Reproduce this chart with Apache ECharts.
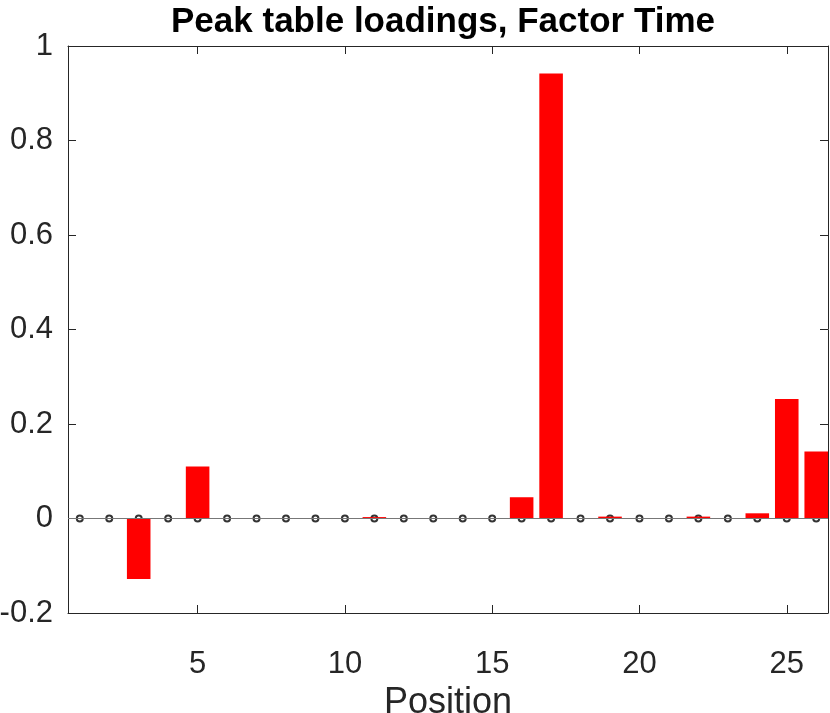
<!DOCTYPE html>
<html>
<head>
<meta charset="utf-8">
<script src="https://cdn.jsdelivr.net/npm/echarts@6/dist/echarts.min.js"></script>
<style>html,body{margin:0;padding:0;background:#fff}#c{width:830px;height:713px}</style>
</head>
<body>
<div id="c"></div>
<script>
var positions = [1,2,3,4,5,6,7,8,9,10,11,12,13,14,15,16,17,18,19,20,21,22,23,24,25,26];
var loadings = [0, 0.001, -0.128, 0, 0.110, 0.001, 0.001, 0, 0.001, 0, 0.003, 0, 0.001, 0.001, 0.001, 0.045, 0.942, 0, 0.004, 0.001, 0.001, 0.004, 0, 0.011, 0.253, 0.142];
var markerValues = [0,0,0,0,0,0,0,0,0,0,0,0,0,0,0,0,0,0,0,0,0,0,0,0,0,0];
var xTicks = [5, 10, 15, 20, 25];
var titleText = 'Peak table loadings, Factor Time';
var xLabel = 'Position';

var font = "'Liberation Sans', Helvetica, Arial, sans-serif";
var axisColor = '#262626';
var chart = echarts.init(document.getElementById('c'), null, {renderer: 'canvas'});
var barData = positions.map(function (p, i) { return [p, loadings[i]]; });
var markData = positions.map(function (p, i) { return [p, markerValues[i]]; });

chart.setOption({
  animation: false,
  backgroundColor: '#ffffff',
  title: {
    text: titleText,
    left: 438, top: 0, textAlign: 'center',
    textStyle: {fontFamily: font, fontWeight: 'bold', fontSize: 35, color: '#000'}
  },
  grid: {left: 68, right: 2, top: 46, bottom: 100, containLabel: false, outerBoundsMode: 'none'},
  xAxis: [{
    type: 'value', min: 0.6, max: 26.4, position: 'bottom',
    name: xLabel, nameLocation: 'middle', nameGap: 62,
    nameTextStyle: {fontFamily: font, fontSize: 36, color: axisColor},
    axisLine: {show: true, onZero: false, lineStyle: {color: axisColor, width: 1}},
    axisTick: {show: true, inside: true, length: 8, customValues: xTicks, lineStyle: {color: axisColor}},
    axisLabel: {customValues: xTicks, fontFamily: font, fontSize: 31, color: axisColor, margin: 36},
    splitLine: {show: false}
  }, {
    type: 'value', min: 0.6, max: 26.4, position: 'top',
    axisLine: {show: true, onZero: false, lineStyle: {color: axisColor, width: 1}},
    axisTick: {show: true, inside: true, length: 8, customValues: xTicks, lineStyle: {color: axisColor}},
    axisLabel: {show: false},
    splitLine: {show: false}
  }],
  yAxis: [{
    type: 'value', min: -0.2, max: 1, interval: 0.2, position: 'left',
    axisLine: {show: true, onZero: false, lineStyle: {color: axisColor, width: 1}},
    axisTick: {show: true, inside: true, length: 8, lineStyle: {color: axisColor}},
    axisLabel: {fontFamily: font, fontSize: 31, color: axisColor, margin: 15},
    splitLine: {show: false}
  }, {
    type: 'value', min: -0.2, max: 1, interval: 0.2, position: 'right',
    axisLine: {show: true, onZero: false, lineStyle: {color: axisColor, width: 1}},
    axisTick: {show: true, inside: true, length: 8, lineStyle: {color: axisColor}},
    axisLabel: {show: false},
    splitLine: {show: false}
  }],
  series: [{
    type: 'scatter',
    data: markData,
    symbol: 'emptyCircle',
    symbolSize: 6,
    itemStyle: {color: '#000', borderColor: '#000', borderWidth: 1},
    z: 1,
    markLine: {
      silent: true, symbol: 'none', label: {show: false},
      lineStyle: {color: '#777777', width: 1, type: 'solid'},
      data: [{yAxis: 0}]
    }
  }, {
    type: 'bar',
    data: barData,
    barWidth: '80%',
    itemStyle: {color: '#ff0000'},
    z: 3
  }]
});
</script>
</body>
</html>
